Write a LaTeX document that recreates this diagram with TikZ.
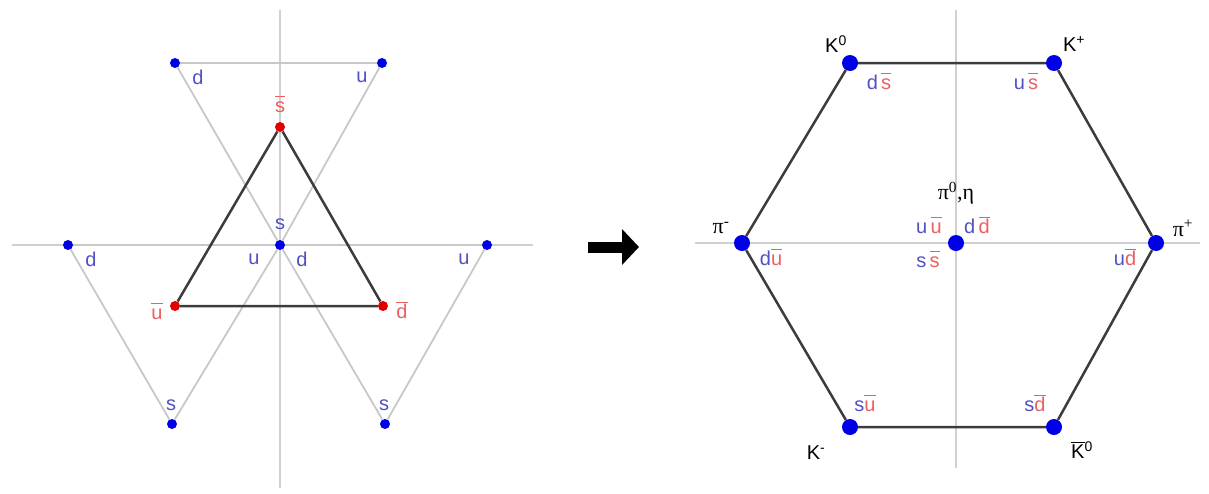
\documentclass[tikz,border=0pt]{standalone}
\usepackage{fontspec}
\setmainfont{Liberation Sans}
\newfontfamily\piserif{Liberation Serif}
\usetikzlibrary{arrows.meta}
\definecolor{qblue}{RGB}{80,80,195}
\definecolor{qred}{RGB}{235,95,95}
\definecolor{dotblue}{RGB}{0,0,230}
\definecolor{dotred}{RGB}{225,0,0}
\definecolor{axisgray}{RGB}{208,208,208}
\definecolor{lightline}{RGB}{200,200,200}
\definecolor{darkline}{RGB}{60,60,60}
\newcommand{\qbarr}[1]{$\overline{\mbox{\vphantom{d}#1}}$}
\newcommand{\bqk}[1]{{\color{qblue}#1}}
\newcommand{\rqk}[1]{{\color{qred}\qbarr{#1}}}
\begin{document}
\begin{tikzpicture}[x=1pt,y=-1pt,
  bdot/.style={circle,fill=dotblue,inner sep=0,minimum size=10pt},
  hdot/.style={circle,fill=dotblue,inner sep=0,minimum size=16pt},
  rdot/.style={circle,fill=dotred,inner sep=0,minimum size=10pt},
  lbl/.style={font=\fontsize{20}{23}\selectfont,inner sep=0},
  plbl/.style={font=\fontsize{22}{25}\selectfont\piserif,inner sep=0},
  light/.style={draw=lightline,line width=1.8pt},
  dark/.style={draw=darkline,line width=2.5pt},
  axisline/.style={draw=axisgray,line width=1.5pt}]
\useasboundingbox (0,0) rectangle (1209,493);
% ---- left axes
\coordinate (lvt) at (280,10);
\coordinate (lvb) at (280,488);
\coordinate (lhl) at (12,245);
\coordinate (lhr) at (533,245);
\draw[axisline] (lvt) -- (lvb);
\draw[axisline] (lhl) -- (lhr);
% ---- left dots
\node[bdot] (td) at (175,63) {};
\node[bdot] (tu) at (382,63) {};
\node[bdot] (c) at (280,245) {};
\node[bdot] (ld) at (68,245) {};
\node[bdot] (ls) at (172,424) {};
\node[bdot] (ru) at (487,245) {};
\node[bdot] (rs) at (385,424) {};
\node[rdot] (as) at (280,127) {};
\node[rdot] (au) at (175,306) {};
\node[rdot] (ad) at (383,306) {};
% ---- light triangles
\draw[light] (td) -- (tu) -- (c) -- (td);
\draw[light] (ld) -- (c) -- (ls) -- (ld);
\draw[light] (c) -- (ru) -- (rs) -- (c);
% ---- dark antiquark triangle
\draw[dark] (as) -- (ad) -- (au) -- (as);
% ---- left labels
\node[lbl,text=qblue] (l1) at (198,77) {d};
\node[lbl,text=qblue] (l2) at (362,77) {u};
\node[lbl,text=qred] (l3) at (280,104) {\qbarr{s}};
\node[lbl,text=qblue] (l4) at (280,224) {s};
\node[lbl,text=qblue] (l5) at (254,259) {u};
\node[lbl,text=qblue] (l6) at (302,259) {d};
\node[lbl,text=qblue] (l7) at (91,259) {d};
\node[lbl,text=qblue] (l8) at (464,259) {u};
\node[lbl,text=qblue] (l9) at (171,405) {s};
\node[lbl,text=qblue] (l10) at (384,405) {s};
\node[lbl,text=qred] (l11) at (157,311) {\qbarr{u}};
\node[lbl,text=qred] (l12) at (402,310) {\qbarr{d}};
% ---- arrow
\coordinate (a1) at (588,247);
\coordinate (a2) at (639,247);
\draw[line width=11pt,-{Triangle[length=17pt,width=35pt]}] (a1) -- (a2);
% ---- right axes
\coordinate (rvt) at (956,10);
\coordinate (rvb) at (956,468);
\coordinate (rhl) at (695,243);
\coordinate (rhr) at (1200,243);
\draw[axisline] (rvt) -- (rvb);
\draw[axisline] (rhl) -- (rhr);
% ---- hexagon dots
\node[hdot] (k0) at (850,63) {};
\node[hdot] (kp) at (1054,63) {};
\node[hdot] (pip) at (1156,243) {};
\node[hdot] (k0b) at (1054,427) {};
\node[hdot] (km) at (850,427) {};
\node[hdot] (pim) at (742,243) {};
\node[hdot] (ctr) at (956,243) {};
\draw[dark] (k0) -- (kp) -- (pip) -- (k0b) -- (km) -- (pim) -- (k0);
% ---- right labels
\node[lbl] (n1) at (836,44) {K\textsuperscript{0}};
\node[lbl] (n2) at (1074,44) {K\textsuperscript{+}};
\node[plbl] (n3) at (721,228) {π\textsuperscript{-}};
\node[plbl] (n4) at (1183,228) {π\textsuperscript{+}};
\node[lbl] (n5) at (816,453) {K\textsuperscript{-}};
\node[lbl] (n6) at (1082,450) {\qbarr{K}\textsuperscript{0}};
\node[plbl] (n7) at (956,193) {π\textsuperscript{0},η};
\node[lbl] (n8) at (879,81) {\bqk{d}\,\rqk{s}};
\node[lbl] (n9) at (1026,81) {\bqk{u}\,\rqk{s}};
\node[lbl] (n10) at (929,225) {\bqk{u}\,\rqk{u}};
\node[lbl] (n11) at (977,225) {\bqk{d}\,\rqk{d}};
\node[lbl] (n12) at (928,259) {\bqk{s}\,\rqk{s}};
\node[lbl] (n13) at (771,257) {\bqk{d}\rqk{u}};
\node[lbl] (n14) at (1125,257) {\bqk{u}\rqk{d}};
\node[lbl] (n15) at (865,403) {\bqk{s}\rqk{u}};
\node[lbl] (n16) at (1035,403) {\bqk{s}\rqk{d}};
\end{tikzpicture}
\end{document}
